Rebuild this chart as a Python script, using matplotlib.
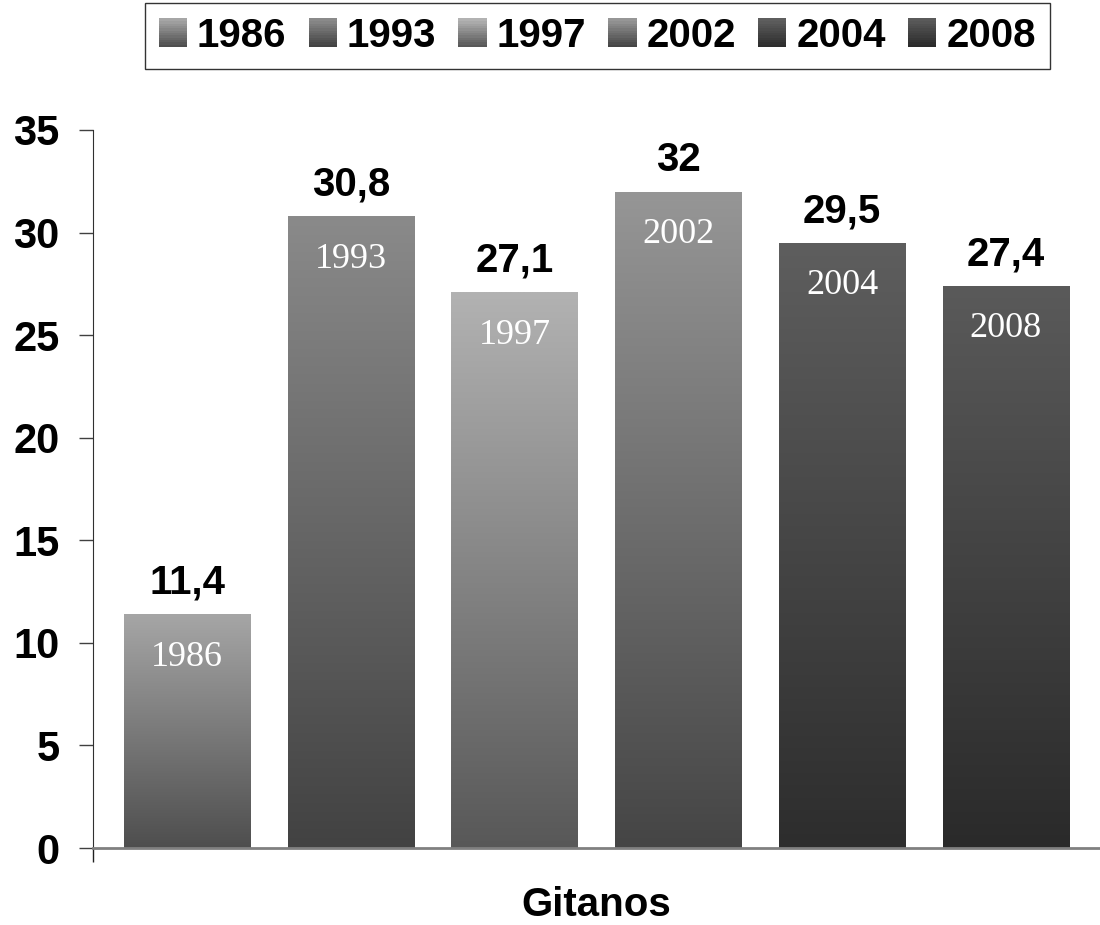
import numpy as np
import matplotlib.pyplot as plt
from matplotlib.colors import LinearSegmentedColormap
from matplotlib.patches import Rectangle
from matplotlib.legend_handler import HandlerBase

years = ['1986', '1993', '1997', '2002', '2004', '2008']
values = [11.4, 30.8, 27.1, 32.0, 29.5, 27.4]
value_labels = ['11,4', '30,8', '27,1', '32', '29,5', '27,4']
category = 'Gitanos'

# gradient colours (top, bottom) for each bar
top_colors = ['#a6a6a6', '#8a8a8a', '#b2b2b2', '#969696', '#5e5e5e', '#5a5a5a']
bottom_colors = ['#4e4e4e', '#424242', '#585858', '#454545', '#2d2d2d', '#2a2a2a']

plt.rcParams['font.family'] = ['Liberation Sans', 'DejaVu Sans']

fig = plt.figure(figsize=(11, 9.25), dpi=100)
ax = fig.add_axes([0.0845, 0.0832, 0.9155, 0.7763])

x = np.arange(len(years))
width = 0.772
bars = ax.bar(x, values, width=width, color='none', edgecolor='none')

cmaps = []
for i, b in enumerate(bars):
    cmap = LinearSegmentedColormap.from_list('g%d' % i, [bottom_colors[i], top_colors[i]])
    cmaps.append(cmap)
    grad = np.linspace(0, 1, 256).reshape(-1, 1)
    x0 = b.get_x()
    h = b.get_height()
    im = ax.imshow(grad, cmap=cmap, origin='lower', aspect='auto',
                   extent=[x0, x0 + b.get_width(), 0, h], zorder=2)
    im.set_clip_path(b)

    ax.annotate(value_labels[i], (x[i], h), xytext=(0, 9), textcoords='offset points',
                ha='center', va='bottom', fontsize=29, fontweight='bold')
    ax.annotate(years[i], (x[i], h), xytext=(0, -31), textcoords='offset points',
                ha='center', va='center', fontsize=26, color='white',
                family=['Liberation Serif', 'DejaVu Serif'])

ax.set_xlim(-0.575, 5.575)
ax.set_ylim(0, 35)
ax.set_yticks(range(0, 36, 5))
ax.tick_params(axis='y', labelsize=30, length=10, width=1, pad=14, color='#404040')
for t in ax.get_yticklabels():
    t.set_fontweight('bold')
ax.set_xticks([-0.575])
ax.set_xticklabels([''])
ax.tick_params(axis='x', length=10, width=1, color='#202020')

ax.spines['top'].set_visible(False)
ax.spines['right'].set_visible(False)
ax.spines['left'].set_color('#303030')
ax.spines['bottom'].set_color('#808080')
ax.spines['bottom'].set_linewidth(2)
ax.spines['bottom'].set_zorder(3)

ax.set_xlabel(category, fontsize=29, fontweight='bold', va='center')
ax.xaxis.set_label_coords(0.5, -0.079)


class GradientHandler(HandlerBase):
    def __init__(self, cmap):
        super().__init__()
        self.cmap = cmap

    def create_artists(self, legend, orig_handle, xdescent, ydescent, width, height, fontsize, trans):
        n = 12
        side = height * 1.0
        x0 = -xdescent + (width - side) / 2
        y0 = -ydescent + (height - side) / 2
        arts = []
        for k in range(n):
            r = Rectangle((x0, y0 + side * k / n), side, side / n + 0.3,
                          facecolor=self.cmap(k / (n - 1)), edgecolor='none', transform=trans)
            arts.append(r)
        return arts


handles = [Rectangle((0, 0), 1, 1) for _ in years]
hmap = {h: GradientHandler(c) for h, c in zip(handles, cmaps)}
leg = fig.legend(handles, years, handler_map=hmap, loc='center', bbox_to_anchor=(0.543, 0.961),
                 ncol=6, frameon=True, fancybox=False, edgecolor='black',
                 prop={'family': ['Liberation Sans'], 'weight': 'bold', 'size': 29},
                 handlelength=0.7, handletextpad=0.25, columnspacing=0.55, borderpad=0.35,
                 borderaxespad=0)
leg.get_frame().set_linewidth(1)

fig.savefig('out.png', dpi=100)
